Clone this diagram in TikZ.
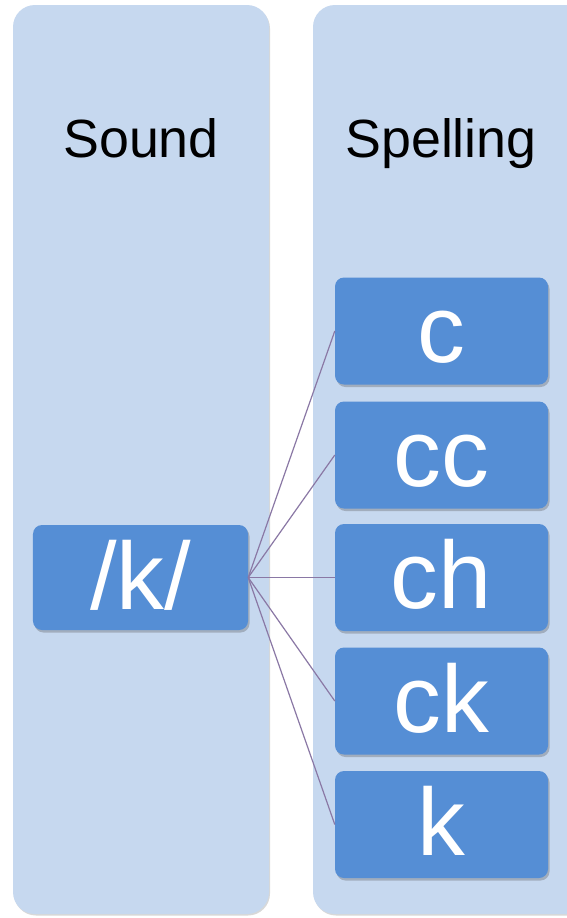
\documentclass[tikz,border=0pt]{standalone}
\usepackage{fontspec}
\setmainfont{Liberation Sans}
\usetikzlibrary{shadows}
\definecolor{colfill}{RGB}{198,216,239}
\definecolor{boxfill}{RGB}{85,142,213}
\definecolor{linkcol}{RGB}{138,120,165}
\tikzset{
  column/.style={fill=colfill, rounded corners=22bp, draw=none,
    drop shadow={shadow xshift=1bp, shadow yshift=-1.5bp, opacity=0.25, fill=black!60}},
  item/.style={fill=boxfill, rounded corners=9bp, draw=none,
    minimum width=213bp, minimum height=107bp, inner sep=0pt,
    drop shadow={shadow xshift=1.5bp, shadow yshift=-2.5bp, opacity=0.3, fill=black!70}},
  itemtext/.style={text=white, font=\fontsize{96}{96}\selectfont, inner sep=0pt, anchor=base},
  heading/.style={text=black, font=\fontsize{54}{54}\selectfont, inner sep=0pt, anchor=base},
  link/.style={draw=linkcol, line width=1.2bp}
}
\begin{document}
\begin{tikzpicture}[x=1bp,y=-1bp]
\useasboundingbox (0,0) rectangle (567,918);
\fill[white] (0,0) rectangle (567,918);
% the two columns
\path[column] (13,5) rectangle (269,914);
\path[column] (313,5) rectangle (590,914);
\node[heading] (sound) at (141,157) {Sound};
\node[heading] (spelling) at (441,157) {Spelling};
% sound box
\node[item, minimum width=215bp, minimum height=105bp] (k) at (140.5,577.5) {};
\node[itemtext] (kt) at ([yshift=-32bp]k.center) {/k/};
% spelling boxes
\foreach \n/\y/\txt in {s1/331/c, s2/455/cc, s3/577.5/ch, s4/701/ck, s5/824.5/k}{
  \node[item] (\n) at (441.5,\y) {};
  \node[itemtext] (\n t) at ([yshift=-31bp]\n.center) {\txt};
}
% links
\foreach \t in {s1,s2,s3,s4,s5}
  \draw[link] (k.east) -- (\t.west);
\end{tikzpicture}
\end{document}
